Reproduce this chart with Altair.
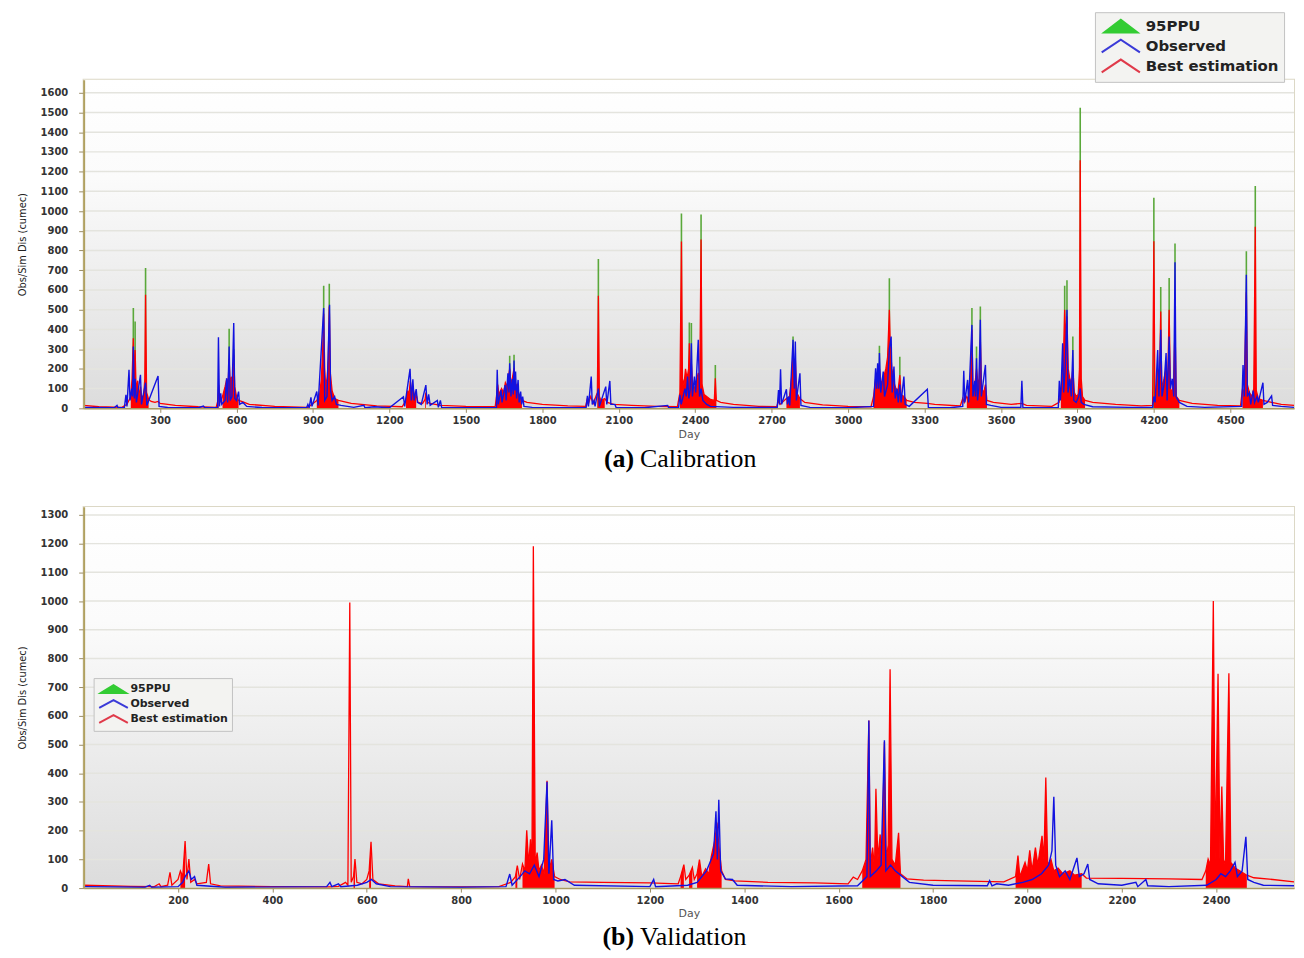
import altair as alt
import pandas as pd

# ---------------- data ----------------
CAL_DAY_TICKS = list(range(300, 4501, 300))
CAL_Q_TICKS = list(range(0, 1601, 100))
VAL_DAY_TICKS = list(range(200, 2401, 200))
VAL_Q_TICKS = list(range(0, 1301, 100))

SERIES = ["95PPU", "Observed", "Best estimation"]

# Calibration: tips of the 95PPU band at the flood peaks (day, upper discharge)
CAL_PPU = [
    (195, 508), (202, 440), (243, 711), (571, 403), (589, 300), (942, 621), (964, 632), (1672, 266),
    (1689, 271), (2020, 757), (2346, 987), (2377, 435), (2385, 432), (2423, 983), (2479, 220),
    (2784, 364), (3123, 317), (3162, 660), (3203, 262), (3486, 508), (3504, 313), (3519, 516),
    (3850, 622), (3859, 649), (3882, 364), (3911, 1524), (4200, 1067), (4227, 615), (4260, 661),
    (4283, 835), (4563, 796), (4598, 1127),
]

# Calibration: best estimation (simulated)
CAL_SIM = [
    (0, 15), (60, 8), (150, 5), (170, 20), (185, 60), (190, 150), (195, 355), (198, 120), (202, 296),
    (206, 90), (212, 140), (216, 60), (223, 110), (228, 50), (236, 70), (240, 150), (243, 576), (247, 80),
    (255, 45), (265, 35), (280, 30), (292, 35), (300, 25), (360, 15), (450, 8), (520, 5), (527, 40),
    (530, 120), (534, 30), (545, 60), (555, 110), (562, 150), (566, 90), (571, 250), (575, 120), (580, 160),
    (586, 130), (589, 271), (593, 110), (600, 60), (608, 40), (620, 35), (650, 20), (750, 10), (880, 5),
    (895, 20), (915, 40), (925, 60), (933, 150), (938, 300), (942, 480), (946, 200), (950, 110), (956, 160),
    (960, 250), (964, 516), (968, 180), (975, 90), (985, 50), (1000, 40), (1050, 25), (1150, 12), (1250, 8),
    (1265, 40), (1272, 90), (1276, 60), (1282, 140), (1288, 60), (1292, 110), (1300, 50), (1305, 70),
    (1312, 30), (1330, 25), (1340, 45), (1343, 80), (1350, 30), (1360, 25), (1400, 15), (1500, 10), (1615, 8),
    (1620, 60), (1625, 120), (1630, 70), (1640, 100), (1648, 80), (1655, 130), (1662, 110), (1667, 160),
    (1672, 200), (1676, 120), (1682, 150), (1689, 203), (1694, 110), (1700, 120), (1705, 80), (1712, 60),
    (1720, 40), (1740, 30), (1800, 20), (1900, 12), (1970, 10), (1975, 40), (1980, 20), (1990, 60),
    (2000, 25), (2016, 80), (2020, 571), (2024, 60), (2030, 40), (2045, 50), (2055, 30), (2080, 20),
    (2150, 15), (2250, 10), (2330, 8), (2340, 80), (2346, 846), (2350, 150), (2356, 120), (2362, 200),
    (2368, 150), (2374, 200), (2377, 330), (2381, 140), (2385, 228), (2390, 120), (2398, 100), (2405, 140),
    (2412, 180), (2418, 150), (2423, 856), (2427, 120), (2435, 70), (2445, 60), (2460, 45), (2475, 40),
    (2479, 152), (2483, 40), (2500, 30), (2550, 20), (2650, 10), (2720, 8), (2727, 40), (2733, 20),
    (2758, 50), (2770, 60), (2778, 150), (2784, 279), (2788, 120), (2793, 250), (2798, 80), (2811, 50),
    (2830, 30), (2900, 18), (3000, 10), (3090, 8), (3100, 60), (3108, 150), (3112, 100), (3118, 180),
    (3123, 200), (3130, 120), (3140, 160), (3148, 200), (3155, 260), (3162, 500), (3166, 300), (3172, 200),
    (3180, 130), (3188, 100), (3196, 90), (3203, 169), (3208, 70), (3219, 60), (3230, 40), (3260, 30),
    (3311, 25), (3340, 20), (3440, 12), (3450, 50), (3456, 30), (3466, 60), (3474, 40), (3480, 150),
    (3486, 398), (3490, 100), (3497, 110), (3504, 200), (3510, 120), (3515, 150), (3519, 347), (3524, 100),
    (3532, 80), (3539, 120), (3545, 40), (3570, 30), (3640, 20), (3682, 25), (3700, 15), (3800, 10),
    (3828, 30), (3835, 80), (3842, 200), (3846, 300), (3850, 500), (3854, 350), (3859, 466), (3864, 200),
    (3870, 150), (3876, 120), (3882, 200), (3888, 80), (3895, 60), (3903, 70), (3908, 200), (3911, 1258),
    (3915, 150), (3920, 60), (3930, 40), (3960, 30), (4050, 20), (4150, 12), (4195, 15), (4200, 847),
    (4204, 40), (4210, 100), (4215, 200), (4222, 150), (4227, 491), (4231, 100), (4240, 150), (4248, 200),
    (4254, 120), (4260, 500), (4265, 100), (4272, 80), (4278, 150), (4283, 420), (4288, 60), (4300, 40),
    (4350, 25), (4450, 15), (4540, 12), (4548, 100), (4554, 60), (4563, 588), (4567, 120), (4575, 80),
    (4585, 60), (4592, 100), (4598, 920), (4602, 90), (4610, 50), (4628, 40), (4662, 30), (4700, 20),
    (4750, 15),
]

# Calibration: observed
CAL_OBS = [
    (0, 5), (120, 3), (131, 15), (135, 3), (160, 5), (166, 68), (170, 10), (178, 195), (182, 40), (189, 100),
    (192, 60), (195, 313), (199, 50), (202, 150), (207, 30), (223, 170), (227, 20), (243, 130), (248, 15),
    (292, 164), (296, 10), (330, 4), (450, 3), (470, 12), (475, 3), (526, 5), (529, 360), (533, 10),
    (538, 76), (542, 20), (555, 40), (561, 152), (565, 30), (571, 313), (575, 40), (582, 60), (589, 432),
    (593, 50), (600, 40), (608, 85), (612, 20), (625, 30), (640, 10), (700, 4), (875, 3), (880, 20),
    (885, 3), (892, 56), (896, 10), (915, 85), (920, 15), (942, 508), (946, 40), (955, 60), (965, 525),
    (969, 93), (975, 40), (985, 60), (992, 20), (1010, 15), (1060, 5), (1100, 15), (1104, 3), (1140, 8),
    (1200, 3), (1255, 59), (1260, 10), (1281, 200), (1286, 40), (1292, 147), (1297, 40), (1305, 98),
    (1310, 30), (1325, 20), (1343, 118), (1348, 20), (1354, 71), (1360, 15), (1388, 40), (1392, 5),
    (1400, 40), (1405, 3), (1500, 3), (1620, 5), (1623, 195), (1627, 20), (1638, 93), (1642, 30),
    (1654, 118), (1658, 40), (1665, 178), (1669, 80), (1672, 229), (1677, 60), (1682, 150), (1686, 70),
    (1689, 242), (1692, 90), (1695, 186), (1699, 50), (1705, 144), (1709, 30), (1715, 85), (1719, 20),
    (1723, 60), (1728, 10), (1760, 5), (1900, 3), (1972, 5), (1977, 63), (1981, 10), (1992, 161),
    (1996, 20), (2003, 40), (2007, 10), (2020, 100), (2024, 10), (2049, 110), (2053, 20), (2065, 139),
    (2069, 20), (2085, 20), (2090, 3), (2200, 3), (2292, 15), (2296, 3), (2335, 5), (2340, 68), (2345, 20),
    (2360, 100), (2365, 60), (2370, 161), (2375, 50), (2380, 93), (2385, 330), (2389, 60), (2397, 161),
    (2402, 80), (2412, 347), (2417, 60), (2423, 100), (2430, 40), (2445, 20), (2460, 10), (2550, 5),
    (2722, 5), (2727, 93), (2731, 20), (2735, 198), (2739, 20), (2758, 97), (2762, 20), (2767, 60),
    (2771, 15), (2784, 347), (2789, 100), (2793, 339), (2797, 40), (2811, 178), (2815, 15), (2850, 5),
    (3000, 3), (3100, 10), (3108, 203), (3112, 100), (3116, 229), (3120, 100), (3123, 280), (3128, 80),
    (3138, 186), (3143, 60), (3155, 120), (3162, 300), (3169, 364), (3173, 80), (3180, 212), (3185, 50),
    (3192, 100), (3197, 30), (3203, 120), (3208, 30), (3219, 161), (3224, 20), (3240, 10), (3311, 97),
    (3315, 5), (3400, 3), (3450, 10), (3454, 191), (3458, 30), (3469, 144), (3473, 30), (3486, 423),
    (3490, 60), (3497, 140), (3500, 60), (3504, 254), (3508, 40), (3513, 100), (3519, 449), (3523, 60),
    (3539, 220), (3543, 20), (3560, 15), (3600, 5), (3678, 5), (3682, 140), (3686, 5), (3800, 3),
    (3825, 5), (3829, 140), (3833, 40), (3836, 100), (3842, 330), (3846, 80), (3852, 200), (3859, 500),
    (3863, 80), (3870, 150), (3876, 60), (3882, 296), (3886, 40), (3895, 30), (3905, 60), (3911, 100),
    (3915, 30), (3925, 20), (3960, 8), (4100, 5), (4195, 5), (4200, 60), (4205, 30), (4215, 296),
    (4220, 60), (4227, 398), (4232, 60), (4240, 120), (4248, 280), (4252, 40), (4260, 364), (4265, 100),
    (4272, 150), (4278, 60), (4283, 740), (4287, 60), (4300, 30), (4330, 10), (4400, 5), (4545, 10),
    (4550, 220), (4555, 60), (4563, 677), (4567, 60), (4575, 80), (4580, 20), (4590, 90), (4595, 30),
    (4605, 60), (4610, 30), (4628, 130), (4632, 20), (4645, 30), (4662, 63), (4666, 15), (4700, 10),
    (4750, 5),
]

# Validation: best estimation (simulated)
VAL_SIM = [
    (0, 10), (100, 6), (150, 5), (160, 15), (164, 5), (178, 10), (183, 55), (187, 10), (200, 30), (205, 60),
    (210, 40), (215, 164), (219, 30), (223, 101), (227, 20), (235, 30), (240, 15), (260, 20), (265, 84),
    (269, 15), (290, 8), (400, 5), (520, 4), (540, 6), (555, 20), (560, 10), (564, 995), (567, 20),
    (572, 40), (575, 101), (579, 20), (590, 15), (600, 30), (605, 60), (609, 161), (613, 30), (625, 15),
    (660, 8), (686, 5), (688, 32), (691, 5), (760, 4), (880, 5), (905, 20), (915, 40), (919, 78),
    (924, 30), (930, 84), (935, 60), (939, 201), (943, 80), (947, 170), (950, 60), (953, 1191), (957, 80),
    (961, 124), (965, 60), (970, 80), (976, 50), (982, 374), (986, 60), (992, 100), (998, 40), (1010, 30),
    (1030, 22), (1100, 20), (1200, 18), (1260, 15), (1265, 40), (1272, 82), (1276, 30), (1283, 44),
    (1290, 72), (1294, 30), (1300, 50), (1305, 99), (1310, 40), (1318, 67), (1325, 50), (1330, 110),
    (1338, 170), (1342, 228), (1346, 150), (1352, 60), (1360, 30), (1380, 25), (1450, 20), (1550, 18),
    (1620, 15), (1631, 38), (1640, 30), (1650, 60), (1658, 100), (1664, 584), (1667, 80), (1672, 141),
    (1676, 70), (1679, 346), (1683, 100), (1688, 187), (1692, 90), (1697, 509), (1701, 100), (1705, 150),
    (1709, 762), (1713, 100), (1720, 80), (1727, 193), (1731, 50), (1745, 32), (1780, 28), (1850, 25),
    (1950, 22), (1975, 40), (1980, 113), (1984, 40), (1995, 90), (2000, 60), (2005, 132), (2010, 60),
    (2017, 141), (2022, 80), (2031, 182), (2035, 100), (2039, 385), (2043, 80), (2050, 100), (2056, 60),
    (2065, 70), (2075, 50), (2090, 60), (2100, 45), (2115, 50), (2125, 35), (2200, 34), (2300, 32),
    (2370, 30), (2378, 60), (2383, 101), (2388, 80), (2394, 1000), (2398, 100), (2404, 747), (2408, 100),
    (2412, 354), (2416, 80), (2420, 100), (2427, 748), (2431, 90), (2440, 70), (2450, 60), (2465, 45),
    (2480, 36), (2520, 30), (2565, 22),
]

# Validation: observed
VAL_OBS = [
    (0, 5), (130, 3), (140, 10), (144, 3), (200, 5), (210, 20), (215, 40), (223, 60), (228, 30), (235, 40),
    (240, 10), (300, 3), (515, 5), (522, 20), (526, 5), (540, 15), (545, 5), (580, 10), (600, 20),
    (610, 30), (620, 15), (650, 5), (800, 3), (895, 5), (903, 49), (908, 10), (925, 40), (935, 60),
    (945, 50), (955, 80), (965, 40), (975, 100), (982, 370), (986, 50), (992, 236), (996, 30), (1005, 25),
    (1020, 30), (1040, 10), (1200, 5), (1208, 30), (1212, 5), (1280, 10), (1300, 20), (1320, 60),
    (1335, 120), (1340, 268), (1343, 100), (1346, 308), (1350, 60), (1360, 32), (1375, 30), (1385, 10),
    (1500, 5), (1640, 8), (1660, 40), (1664, 584), (1667, 40), (1680, 60), (1690, 80), (1697, 515),
    (1700, 60), (1710, 80), (1720, 60), (1735, 40), (1750, 20), (1800, 10), (1915, 8), (1920, 26),
    (1925, 8), (1935, 15), (1960, 10), (1990, 20), (2010, 30), (2030, 50), (2045, 80), (2052, 130),
    (2056, 318), (2060, 80), (2068, 40), (2080, 60), (2090, 30), (2105, 105), (2110, 40), (2120, 50),
    (2128, 84), (2132, 30), (2150, 15), (2200, 10), (2230, 20), (2234, 5), (2251, 30), (2255, 8),
    (2300, 5), (2380, 10), (2400, 30), (2410, 50), (2420, 40), (2430, 60), (2440, 90), (2445, 40),
    (2455, 60), (2463, 179), (2467, 30), (2480, 20), (2500, 10), (2565, 8),
]

CAPTION_A = ("(a)", "Calibration")
CAPTION_B = ("(b)", "Validation")
Y_TITLE = "Obs/Sim Dis (cumec)"
X_TITLE = "Day"

# ---------------- styling ----------------
GREEN = "#5aa83a"
BLUE = "#1212e0"
RED = "#ff0000"
FILL_MIN = 40  # simulated values at or above this are shaded as a filled flood cluster
SERIES_FILL = ["#33cc33", "transparent", "transparent"]
SERIES_STROKE = ["#33cc33", "#3a3ad8", "#e03a4a"]
SHAPES_TOP = ["M-2.1,0.8L0,-0.8L2.1,0.8Z", "M-2.4,0.8L0,-0.8L2.4,0.8", "M-2.4,0.8L0,-0.8L2.4,0.8"]
SHAPES_BOTTOM = ["M-2.1,0.65L0,-0.65L2.1,0.65Z", "M-2.4,0.65L0,-0.65L2.4,0.65", "M-2.4,0.65L0,-0.65L2.4,0.65"]

W = 1216
BG = alt.Gradient(
    gradient="linear",
    stops=[alt.GradientStop(color="#ffffff", offset=0),
           alt.GradientStop(color="#fbfbfb", offset=0.3),
           alt.GradientStop(color="#dcdcdc", offset=1)],
    x1=0, x2=0, y1=0, y2=1,
)


def frame(pts):
    return pd.DataFrame(pts, columns=["day", "q"])


def panel(ppu, obs, sim, xdom, ydom, xticks, yticks, H, leg_x, leg_y, sym_size, sym_offset,
          leg_font, leg_label_offset, leg_row_pad, leg_pad, shapes, caption, cap_y):
    x_axis = alt.Axis(values=xticks, title=X_TITLE, grid=False, zindex=1, format="d",
                      domainColor="#a89a62", domainWidth=1.5, tickColor="#9a8c66", tickSize=4,
                      labelFont="DejaVu Sans", labelFontWeight="bold", labelFontSize=10,
                      labelColor="#333333", labelPadding=3, labelFlush=False,
                      titleFont="DejaVu Sans", titleFontWeight="normal", titleFontSize=11,
                      titleColor="#555555", titlePadding=3)
    y_axis = alt.Axis(values=yticks, title=Y_TITLE, grid=False, zindex=1, format="d",
                      domainColor="#b0a060", domainWidth=2, tickColor="#9a8c66", tickSize=5,
                      labelFont="DejaVu Sans", labelFontWeight="bold", labelFontSize=10,
                      labelColor="#333333", labelPadding=11,
                      titleFont="Liberation Sans Narrow, DejaVu Sans Condensed, Liberation Sans",
                      titleFontWeight="normal", titleFontSize=11, titleColor="#222222",
                      titlePadding=13)
    xs = alt.Scale(domain=xdom, nice=False, zero=False)
    ys = alt.Scale(domain=ydom, nice=False)
    x = alt.X("day:Q", scale=xs, axis=x_axis)
    y = alt.Y("q:Q", scale=ys, axis=y_axis)

    bg = alt.Chart(pd.DataFrame({"k": [0]})).mark_rect(fill=BG).encode(
        x=alt.value(0), x2=alt.value(W), y=alt.value(0), y2=alt.value(H))
    grid = alt.Chart(pd.DataFrame({"q": yticks})).mark_rule(
        color="#e4e4de", strokeWidth=1.5).encode(y=y)
    layers = [bg, grid]
    if ppu:
        layers.append(alt.Chart(frame(ppu)).mark_rule(
            color=GREEN, strokeWidth=1.6, clip=True).encode(
            x=x, y=alt.Y("zero:Q", scale=ys, axis=y_axis), y2="q:Q").transform_calculate(zero="0"))
    layers.append(alt.Chart(frame(sim)).transform_calculate(
        qa=f"datum.q >= {FILL_MIN} ? datum.q : null").mark_area(
        color=RED, clip=True, invalid="break-paths-filter-domains").encode(
        x=x, y=alt.Y("qa:Q", scale=ys, axis=y_axis)))
    layers.append(alt.Chart(frame(sim)).mark_line(
        color=RED, strokeWidth=1.3, clip=True).encode(x=x, y=y))
    layers.append(alt.Chart(frame(obs)).mark_line(
        color=BLUE, strokeWidth=1.4, clip=True).encode(x=x, y=y))

    leg = alt.Legend(title=None, orient="none", legendX=leg_x, legendY=leg_y, direction="vertical",
                     fillColor="#f3f3f1", strokeColor="#c2c2c2", padding=leg_pad,
                     symbolSize=sym_size, symbolStrokeWidth=2, symbolOffset=sym_offset,
                     labelFont="DejaVu Sans", labelFontWeight="bold", labelFontSize=leg_font,
                     labelColor="#222222", labelOffset=leg_label_offset, rowPadding=leg_row_pad)
    layers.append(
        alt.Chart(pd.DataFrame({"series": SERIES})).transform_filter("false")
        .mark_point(size=sym_size, strokeWidth=2, opacity=1)
        .encode(
            fill=alt.Fill("series:N", scale=alt.Scale(domain=SERIES, range=SERIES_FILL), legend=leg),
            stroke=alt.Stroke("series:N", scale=alt.Scale(domain=SERIES, range=SERIES_STROKE), legend=leg),
            shape=alt.Shape("series:N", scale=alt.Scale(domain=SERIES, range=shapes), legend=leg),
        )
    )
    layers.append(alt.Chart(pd.DataFrame({"t": [caption[0]]})).mark_text(
        font="Liberation Serif", fontSize=26, fontWeight="bold", align="right",
        baseline="alphabetic", color="#000000").encode(
        text="t:N", x=alt.value(553), y=alt.value(cap_y)))
    layers.append(alt.Chart(pd.DataFrame({"t": [caption[1]]})).mark_text(
        font="Liberation Serif", fontSize=26, fontWeight="normal", align="left",
        baseline="alphabetic", color="#000000").encode(
        text="t:N", x=alt.value(559), y=alt.value(cap_y)))
    return alt.layer(*layers).properties(width=W, height=H)


top = panel(CAL_PPU, CAL_OBS, CAL_SIM, [0, 4750], [0, 1665], CAL_DAY_TICKS, CAL_Q_TICKS,
            330, 1016, -68, 256, 12, 15, 16, -11, 5, SHAPES_TOP, CAPTION_A, 389)
bottom = panel(None, VAL_OBS, VAL_SIM, [0, 2565], [0, 1328], VAL_DAY_TICKS, VAL_Q_TICKS,
               383, 10, 172, 144, 9, 11, 10, -11, 4, SHAPES_BOTTOM, CAPTION_B, 440)

chart = (
    alt.vconcat(top, bottom, spacing=33)
    .resolve_scale(x="independent", y="independent", fill="independent",
                   stroke="independent", shape="independent")
    .resolve_legend(fill="independent", stroke="independent", shape="independent")
    .properties(padding={"left": 7, "top": 0, "right": 0, "bottom": 0})
    .configure_view(stroke="#dcd8c6", strokeWidth=2)
)

chart.save("out.html", embed_options={"renderer": "svg", "actions": False})
